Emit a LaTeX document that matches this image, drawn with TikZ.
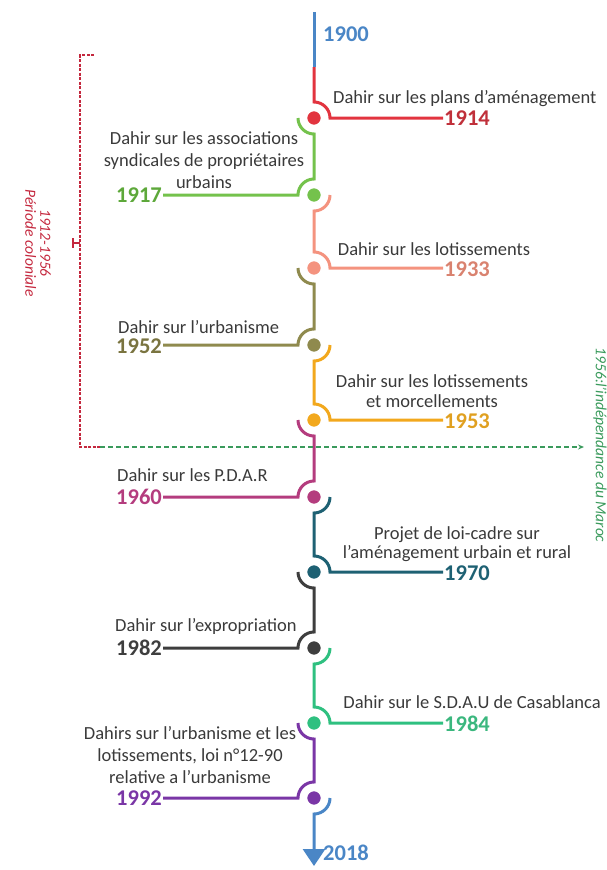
\documentclass[tikz,border=0pt]{standalone}
\usepackage{fontspec}
\setmainfont{Carlito}
\usetikzlibrary{calc,arrows.meta}
\definecolor{blueC}{HTML}{4A86C6}
\definecolor{redC}{HTML}{E2343F}
\definecolor{redT}{HTML}{C0303A}
\definecolor{greenA}{HTML}{74C24C}
\definecolor{greenAT}{HTML}{5DA83A}
\definecolor{salmonC}{HTML}{F4937F}
\definecolor{salmonT}{HTML}{D9826F}
\definecolor{oliveC}{HTML}{8F8A4E}
\definecolor{oliveT}{HTML}{7A7440}
\definecolor{orangeC}{HTML}{F2A81D}
\definecolor{orangeT}{HTML}{E0A020}
\definecolor{magentaC}{HTML}{B43C7E}
\definecolor{tealC}{HTML}{1E6173}
\definecolor{dgrayC}{HTML}{3E3E3E}
\definecolor{greenB}{HTML}{2FC080}
\definecolor{greenBT}{HTML}{3BB77E}
\definecolor{purpleC}{HTML}{7A36A6}
\definecolor{redDash}{HTML}{C4283E}
\definecolor{greenDash}{HTML}{3A9A5C}
\definecolor{descC}{HTML}{3A3A3A}
\begin{document}
\begin{tikzpicture}[x=1pt,y=-1pt,
  seg/.style={line width=3pt},
  evdot/.style={draw=white,line width=1.5pt},
  desc/.style={font=\fontsize{18.5}{21}\selectfont,text=descC,inner sep=0pt,align=center},
  yr/.style={font=\fontsize{22.5}{26}\selectfont\bfseries,inner sep=1pt},
  bracket/.style={draw=redDash,line width=1.6pt,dash pattern=on 3pt off 1.5pt},
  indep/.style={draw=greenDash,line width=1.6pt,dash pattern=on 5pt off 3pt}]
\def\R{16}
\useasboundingbox (0,0) rectangle (607,870);
% dot positions
\coordinate (top) at (314,12);
\coordinate (mid) at (314,67);
\coordinate (d1914) at (314,118);
\coordinate (d1917) at (314,195);
\coordinate (d1933) at (314,268);
\coordinate (d1952) at (314,345);
\coordinate (d1953) at (314,420);
\coordinate (d1960) at (314,497);
\coordinate (d1970) at (314,572);
\coordinate (d1982) at (314,648);
\coordinate (d1984) at (314,723);
\coordinate (d1992) at (314,798);
\coordinate (bot) at (314,866);
% year labels
\node[yr,text=blueC,anchor=base west] (y1900) at (322,41) {1900};
\node[yr,text=redT,anchor=base west] (y1914) at (443,125.5) {1914};
\node[yr,text=greenAT,anchor=base east] (y1917) at (163,202.5) {1917};
\node[yr,text=salmonT,anchor=base west] (y1933) at (443,276) {1933};
\node[yr,text=oliveT,anchor=base east] (y1952) at (163,353) {1952};
\node[yr,text=orangeT,anchor=base west] (y1953) at (443,428) {1953};
\node[yr,text=magentaC,anchor=base east] (y1960) at (163,504.5) {1960};
\node[yr,text=tealC,anchor=base west] (y1970) at (443,580) {1970};
\node[yr,text=dgrayC,anchor=base east] (y1982) at (163,655.5) {1982};
\node[yr,text=greenBT,anchor=base west] (y1984) at (443,731) {1984};
\node[yr,text=purpleC,anchor=base east] (y1992) at (163,805.5) {1992};
\node[yr,text=blueC,anchor=base west] (y2018) at (322,860) {2018};
% descriptions
\node[desc,anchor=base west] (t1914) at (333,103) {Dahir sur les plans d'aménagement};
\node[desc,anchor=north,font=\fontsize{18.5}{22}\selectfont] (t1917) at (204,131) {Dahir sur les associations\\syndicales de propriétaires\\urbains};
\node[desc,anchor=base] (t1933) at (434,255) {Dahir sur les lotissements};
\node[desc,anchor=base west] (t1952) at (118,333) {Dahir sur l'urbanisme};
\node[desc,anchor=north,font=\fontsize{18.5}{20}\selectfont] (t1953) at (432,374) {Dahir sur les lotissements\\et morcellements};
\node[desc,anchor=north,font=\fontsize{18.5}{19}\selectfont] (t1970) at (457,526) {Projet de loi-cadre sur\\l'aménagement urbain et rural};
\node[desc,anchor=base west] (t1960) at (117,481) {Dahir sur les P.D.A.R};
\node[desc,anchor=base west] (t1982) at (115,631) {Dahir sur l'expropriation};
\node[desc,anchor=base east] (t1984) at (601,708) {Dahir sur le S.D.A.U de Casablanca};
\node[desc,anchor=north,font=\fontsize{18.5}{22}\selectfont] (t1992) at (190,726) {Dahirs sur l'urbanisme et les\\lotissements, loi n°12-90\\relative a l'urbanisme};
% timeline segments
\draw[seg,blueC] (top) -- (mid);
\draw[seg,redC] (mid) -- ($(d1914)+(0,-\R)$) arc[start angle=-90,end angle=0,radius=\R] -- (y1914.west |- d1914);
\draw[seg,greenA] ($(d1914)+(-\R,0)$) arc[start angle=180,end angle=90,radius=\R] -- ($(d1917)+(0,-\R)$) arc[start angle=-90,end angle=-180,radius=\R] -- (y1917.east |- d1917);
\draw[seg,salmonC] ($(d1917)+(\R,0)$) arc[start angle=0,end angle=90,radius=\R] -- ($(d1933)+(0,-\R)$) arc[start angle=-90,end angle=0,radius=\R] -- (y1933.west |- d1933);
\draw[seg,oliveC] ($(d1933)+(-\R,0)$) arc[start angle=180,end angle=90,radius=\R] -- ($(d1952)+(0,-\R)$) arc[start angle=-90,end angle=-180,radius=\R] -- (y1952.east |- d1952);
\draw[seg,orangeC] ($(d1952)+(\R,0)$) arc[start angle=0,end angle=90,radius=\R] -- ($(d1953)+(0,-\R)$) arc[start angle=-90,end angle=0,radius=\R] -- (y1953.west |- d1953);
\draw[seg,magentaC] ($(d1953)+(-\R,0)$) arc[start angle=180,end angle=90,radius=\R] -- ($(d1960)+(0,-\R)$) arc[start angle=-90,end angle=-180,radius=\R] -- (y1960.east |- d1960);
\draw[seg,tealC] ($(d1960)+(\R,0)$) arc[start angle=0,end angle=90,radius=\R] -- ($(d1970)+(0,-\R)$) arc[start angle=-90,end angle=0,radius=\R] -- (y1970.west |- d1970);
\draw[seg,dgrayC] ($(d1970)+(-\R,0)$) arc[start angle=180,end angle=90,radius=\R] -- ($(d1982)+(0,-\R)$) arc[start angle=-90,end angle=-180,radius=\R] -- (y1982.east |- d1982);
\draw[seg,greenB] ($(d1982)+(\R,0)$) arc[start angle=0,end angle=90,radius=\R] -- ($(d1984)+(0,-\R)$) arc[start angle=-90,end angle=0,radius=\R] -- (y1984.west |- d1984);
\draw[seg,purpleC] ($(d1984)+(-\R,0)$) arc[start angle=180,end angle=90,radius=\R] -- ($(d1992)+(0,-\R)$) arc[start angle=-90,end angle=-180,radius=\R] -- (y1992.east |- d1992);
\draw[seg,blueC,-{Triangle[width=22pt,length=17pt]}] ($(d1992)+(\R,0)$) arc[start angle=0,end angle=90,radius=\R] -- (bot);
% dots
\foreach \d/\c in {d1914/redC,d1917/greenA,d1933/salmonC,d1952/oliveC,d1953/orangeC,d1960/magentaC,d1970/tealC,d1982/dgrayC,d1984/greenB,d1992/purpleC}
  \filldraw[evdot,fill=\c] (\d) circle[radius=7.5];
% colonial period bracket
\coordinate (bTop) at (94,55);
\coordinate (bTL) at (80,55);
\coordinate (bBL) at (80,447);
\coordinate (bEnd) at (100,447);
\coordinate (bTip) at (72,243);
\coordinate (iEnd) at (584,447);
\draw[bracket] (bTop) -- (bTL) -- (bBL) -- (bEnd);
\draw[draw=redDash,line width=1.4pt] (80,243) -- (bTip);
\draw[draw=redDash,line width=1.4pt] (73,238) -- (73,248);
\draw[indep,-{Stealth[length=6pt,width=5pt]}] (bEnd) -- (iEnd);
\node[rotate=-90,align=center,text=redDash,font=\fontsize{15.5}{15}\selectfont\itshape,inner sep=0pt] (colon) at (38,243) {1912-1956\\Période coloniale};
\node[rotate=-90,text=greenDash,font=\fontsize{15.5}{15}\selectfont\itshape,inner sep=0pt] (indepT) at (600,445) {1956:l'indépendance du Maroc};
\end{tikzpicture}
\end{document}
